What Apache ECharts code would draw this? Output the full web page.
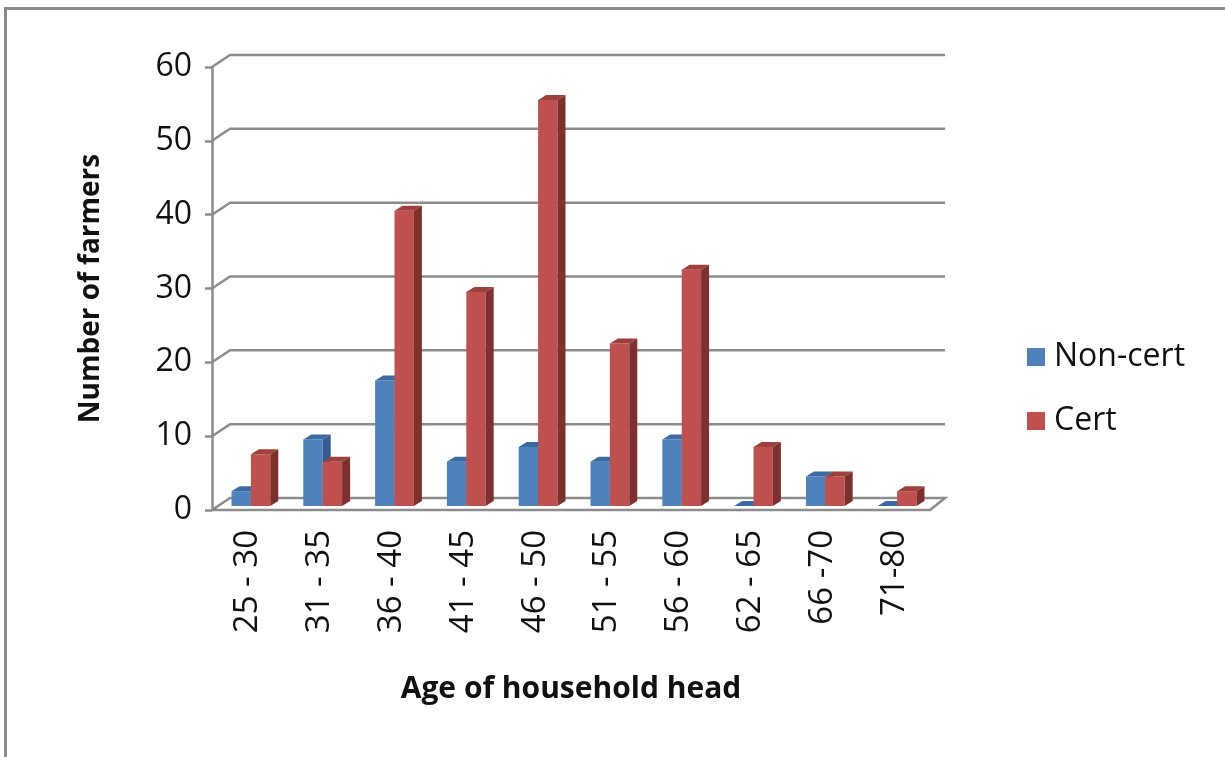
<!DOCTYPE html>
<html>
<head>
<meta charset="utf-8">
<script src="https://cdn.jsdelivr.net/npm/echarts@6/dist/echarts.min.js"></script>
<style>
html, body { margin: 0; padding: 0; background: #fff; }
#chart { width: 1225px; height: 757px; }
</style>
</head>
<body>
<div id="chart"></div>
<script>
// data
var categories = ['25 - 30', '31 - 35', '36 - 40', '41 - 45', '46 - 50', '51 - 55', '56 - 60', '62 - 65', '66 -70', '71-80'];
var nonCert = [2, 9, 17, 6, 8, 6, 9, 0, 4, 0];
var cert = [7, 6, 40, 29, 55, 22, 32, 8, 4, 2];
var gridValues = [0, 10, 20, 30, 40, 50, 60];

var FONT = 'Open Sans';

// 3d-looking bar: front face, top face, right side face
function barRenderer(slot, front, topc, side) {
  return function (params, api) {
    var i = api.value(0), v = api.value(1);
    var base = api.coord([i, 0]);
    var top = api.coord([i, v]);
    var band = api.size([1, 0])[0];
    var w = band * 0.27;
    var x = slot === 0 ? base[0] - w + 3 : base[0] + 3;
    var y0 = base[1] - 4, y1 = top[1] - 4;
    var dx = 8, dy = -5;
    return {
      type: 'group',
      children: [
        { type: 'rect', shape: { x: x, y: y1, width: w, height: y0 - y1 }, style: { fill: front } },
        { type: 'polygon', shape: { points: [[x, y1], [x + dx, y1 + dy], [x + w + dx, y1 + dy], [x + w, y1]] }, style: { fill: topc } },
        { type: 'polygon', shape: { points: [[x + w, y1], [x + w + dx, y1 + dy], [x + w + dx, y0 + dy], [x + w, y0]] }, style: { fill: side } }
      ]
    };
  };
}

// back wall gridlines + side wall diagonals + floor
function wallRenderer(params, api) {
  var cs = params.coordSys;
  var v = api.value(0);
  var y = api.coord([0, v])[1];
  var x0 = cs.x, x1 = cs.x + cs.width;
  var pts = [[x0, y], [x0 + 18, y - 12], [x1 + 15, y - 12]];
  if (v === 0) {
    pts = [[x0, y], [x0 + 18, y - 12], [x1 + 15, y - 12], [x1, y], [x0, y]];
  }
  return {
    type: 'polyline',
    shape: { points: pts },
    style: { stroke: '#8c8c8c', lineWidth: 2.5, fill: null }
  };
}

var chart = echarts.init(document.getElementById('chart'));
chart.setOption({
  animation: false,
  color: ['#4F81BD', '#C0504D'],
  textStyle: { fontFamily: FONT },
  graphic: [{
    type: 'rect',
    left: 3, top: 6,
    shape: { width: 1240, height: 800 },
    style: { fill: null, stroke: '#8a8a8a', lineWidth: 3 }
  }],
  grid: { left: 212, right: 295, top: 67, bottom: 247 },
  legend: {
    orient: 'vertical',
    left: 1022, top: 336,
    itemWidth: 18, itemHeight: 18,
    itemGap: 32,
    icon: 'rect',
    data: ['Non-cert', 'Cert'],
    textStyle: { fontSize: 32, color: '#111', fontFamily: FONT, padding: [0, 0, 0, 4] }
  },
  xAxis: {
    type: 'category',
    data: categories,
    axisLine: { show: false },
    axisTick: { show: false },
    axisLabel: { rotate: 90, fontSize: 33, color: '#111', margin: 20, fontFamily: FONT },
    name: 'Age of household head',
    nameLocation: 'middle',
    nameGap: 164,
    nameTextStyle: { fontSize: 30, fontWeight: 'bold', color: '#111', fontFamily: FONT }
  },
  yAxis: {
    type: 'value',
    min: 0, max: 60, interval: 10,
    axisLine: { show: true, lineStyle: { color: '#8c8c8c', width: 2.5 } },
    axisTick: { show: true, length: 7, lineStyle: { color: '#8c8c8c', width: 2.5 } },
    axisLabel: { fontSize: 32, color: '#111', margin: 20, fontFamily: FONT },
    splitLine: { show: false },
    name: 'Number of farmers',
    nameLocation: 'middle',
    nameGap: 107,
    nameTextStyle: { fontSize: 28, fontWeight: 'bold', color: '#111', fontFamily: FONT }
  },
  series: [
    {
      name: 'wall',
      type: 'custom',
      silent: true,
      z: 1,
      renderItem: wallRenderer,
      encode: { y: 0 },
      data: gridValues.map(function (v) { return [v]; })
    },
    {
      name: 'Non-cert',
      type: 'custom',
      z: 2,
      itemStyle: { color: '#4F81BD' },
      renderItem: barRenderer(0, '#4F81BD', '#3c6aa3', '#345c8e'),
      encode: { x: 0, y: 1 },
      data: nonCert.map(function (v, i) { return [i, v]; })
    },
    {
      name: 'Cert',
      type: 'custom',
      z: 3,
      itemStyle: { color: '#C0504D' },
      renderItem: barRenderer(1, '#C0504D', '#a0403d', '#7e302e'),
      encode: { x: 0, y: 1 },
      data: cert.map(function (v, i) { return [i, v]; })
    }
  ]
});
</script>
</body>
</html>
